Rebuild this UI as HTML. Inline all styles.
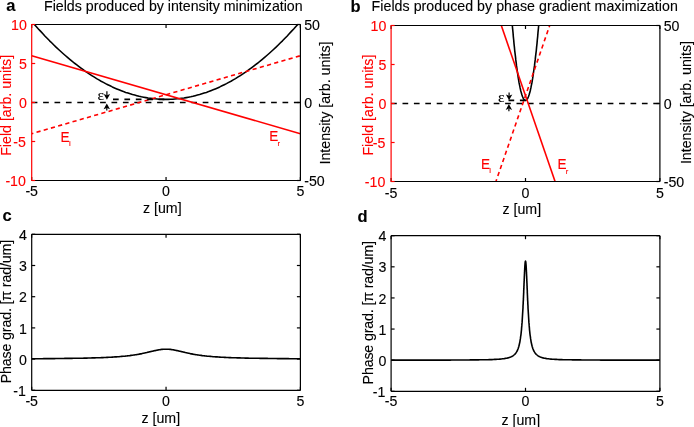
<!DOCTYPE html>
<html><head><meta charset="utf-8"><style>html,body{margin:0;padding:0;background:#fff;width:694px;height:427px;overflow:hidden}svg{display:block;will-change:transform}</style></head>
<body><svg width="694" height="427" viewBox="0 0 694 427"><clipPath id="ca"><rect x="31.7" y="24.5" width="268.7" height="156.0"/></clipPath>
<line x1="31.70" y1="102.50" x2="300.40" y2="102.50" stroke="#000" stroke-width="1.6" stroke-dasharray="5.7 5.7" stroke-linecap="butt"/>
<path d="M31.7,21.4 L33.9,24.0 L36.2,26.5 L38.4,29.0 L40.7,31.4 L42.9,33.8 L45.1,36.2 L47.4,38.5 L49.6,40.8 L51.9,43.0 L54.1,45.2 L56.3,47.4 L58.6,49.5 L60.8,51.5 L63.0,53.5 L65.3,55.5 L67.5,57.4 L69.8,59.3 L72.0,61.2 L74.2,63.0 L76.5,64.7 L78.7,66.4 L81.0,68.1 L83.2,69.7 L85.4,71.3 L87.7,72.8 L89.9,74.3 L92.2,75.8 L94.4,77.2 L96.6,78.6 L98.9,79.9 L101.1,81.2 L103.4,82.4 L105.6,83.6 L107.8,84.7 L110.1,85.8 L112.3,86.9 L114.5,87.9 L116.8,88.9 L119.0,89.8 L121.3,90.7 L123.5,91.6 L125.7,92.4 L128.0,93.1 L130.2,93.8 L132.5,94.5 L134.7,95.1 L136.9,95.7 L139.2,96.3 L141.4,96.8 L143.7,97.2 L145.9,97.6 L148.1,98.0 L150.4,98.3 L152.6,98.6 L154.9,98.8 L157.1,99.0 L159.3,99.2 L161.6,99.3 L163.8,99.4 L166.0,99.4 L168.3,99.4 L170.5,99.3 L172.8,99.2 L175.0,99.0 L177.2,98.8 L179.5,98.6 L181.7,98.3 L184.0,98.0 L186.2,97.6 L188.4,97.2 L190.7,96.8 L192.9,96.3 L195.2,95.7 L197.4,95.1 L199.6,94.5 L201.9,93.8 L204.1,93.1 L206.4,92.4 L208.6,91.6 L210.8,90.7 L213.1,89.8 L215.3,88.9 L217.6,87.9 L219.8,86.9 L222.0,85.8 L224.3,84.7 L226.5,83.6 L228.7,82.4 L231.0,81.2 L233.2,79.9 L235.5,78.6 L237.7,77.2 L239.9,75.8 L242.2,74.3 L244.4,72.8 L246.7,71.3 L248.9,69.7 L251.1,68.1 L253.4,66.4 L255.6,64.7 L257.9,63.0 L260.1,61.2 L262.3,59.3 L264.6,57.4 L266.8,55.5 L269.1,53.5 L271.3,51.5 L273.5,49.5 L275.8,47.4 L278.0,45.2 L280.2,43.0 L282.5,40.8 L284.7,38.5 L287.0,36.2 L289.2,33.8 L291.4,31.4 L293.7,29.0 L295.9,26.5 L298.2,24.0 L300.4,21.4" fill="none" stroke="#000" stroke-width="1.6" clip-path="url(#ca)" stroke-linejoin="round"/>
<path d="M31.7,133.7 L300.4,55.7" fill="none" stroke="#ff0000" stroke-width="1.6" stroke-dasharray="4.2 3.3" stroke-dashoffset="2.5" clip-path="url(#ca)" stroke-linejoin="round"/>
<path d="M31.7,55.7 L300.4,133.7" fill="none" stroke="#ff0000" stroke-width="1.6" clip-path="url(#ca)" stroke-linejoin="round"/>
<line x1="113.00" y1="99.38" x2="166.05" y2="99.38" stroke="#000" stroke-width="1.6" stroke-dasharray="5.7 5.7" stroke-linecap="butt"/>
<line x1="31.70" y1="180.50" x2="300.40" y2="180.50" stroke="#000" stroke-width="1.2" stroke-linecap="butt"/>
<line x1="31.70" y1="24.50" x2="300.40" y2="24.50" stroke="#000" stroke-width="1.2" stroke-linecap="butt"/>
<line x1="300.40" y1="24.50" x2="300.40" y2="180.50" stroke="#000" stroke-width="1.2" stroke-linecap="butt"/>
<line x1="296.90" y1="180.50" x2="300.40" y2="180.50" stroke="#000" stroke-width="1.2" stroke-linecap="butt"/>
<text x="304.20" y="185.90" fill="#000" stroke="#000" stroke-width="0.12" font-size="14.2" text-anchor="start" font-weight="normal" font-family="Liberation Sans">-50</text>
<line x1="296.90" y1="102.50" x2="300.40" y2="102.50" stroke="#000" stroke-width="1.2" stroke-linecap="butt"/>
<text x="304.20" y="107.90" fill="#000" stroke="#000" stroke-width="0.12" font-size="14.2" text-anchor="start" font-weight="normal" font-family="Liberation Sans">0</text>
<line x1="296.90" y1="24.50" x2="300.40" y2="24.50" stroke="#000" stroke-width="1.2" stroke-linecap="butt"/>
<text x="304.20" y="29.90" fill="#000" stroke="#000" stroke-width="0.12" font-size="14.2" text-anchor="start" font-weight="normal" font-family="Liberation Sans">50</text>
<line x1="31.70" y1="180.50" x2="31.70" y2="177.00" stroke="#000" stroke-width="1.2" stroke-linecap="butt"/>
<line x1="31.70" y1="24.50" x2="31.70" y2="28.00" stroke="#000" stroke-width="1.2" stroke-linecap="butt"/>
<text x="31.70" y="196.45" fill="#000" stroke="#000" stroke-width="0.12" font-size="14.2" text-anchor="middle" font-weight="normal" font-family="Liberation Sans">-5</text>
<line x1="166.05" y1="180.50" x2="166.05" y2="177.00" stroke="#000" stroke-width="1.2" stroke-linecap="butt"/>
<line x1="166.05" y1="24.50" x2="166.05" y2="28.00" stroke="#000" stroke-width="1.2" stroke-linecap="butt"/>
<text x="166.05" y="196.45" fill="#000" stroke="#000" stroke-width="0.12" font-size="14.2" text-anchor="middle" font-weight="normal" font-family="Liberation Sans">0</text>
<line x1="300.40" y1="180.50" x2="300.40" y2="177.00" stroke="#000" stroke-width="1.2" stroke-linecap="butt"/>
<line x1="300.40" y1="24.50" x2="300.40" y2="28.00" stroke="#000" stroke-width="1.2" stroke-linecap="butt"/>
<text x="300.40" y="196.45" fill="#000" stroke="#000" stroke-width="0.12" font-size="14.2" text-anchor="middle" font-weight="normal" font-family="Liberation Sans">5</text>
<line x1="31.70" y1="23.90" x2="31.70" y2="181.10" stroke="#ff0000" stroke-width="1.2" stroke-linecap="butt"/>
<line x1="31.70" y1="180.50" x2="35.20" y2="180.50" stroke="#ff0000" stroke-width="1.2" stroke-linecap="butt"/>
<text x="25.90" y="185.90" fill="#ff0000" stroke="#ff0000" stroke-width="0.12" font-size="14.2" text-anchor="end" font-weight="normal" font-family="Liberation Sans">-10</text>
<line x1="31.70" y1="141.50" x2="35.20" y2="141.50" stroke="#ff0000" stroke-width="1.2" stroke-linecap="butt"/>
<text x="25.90" y="146.90" fill="#ff0000" stroke="#ff0000" stroke-width="0.12" font-size="14.2" text-anchor="end" font-weight="normal" font-family="Liberation Sans">-5</text>
<line x1="31.70" y1="102.50" x2="35.20" y2="102.50" stroke="#ff0000" stroke-width="1.2" stroke-linecap="butt"/>
<text x="26.90" y="107.90" fill="#ff0000" stroke="#ff0000" stroke-width="0.12" font-size="14.2" text-anchor="end" font-weight="normal" font-family="Liberation Sans">0</text>
<line x1="31.70" y1="63.50" x2="35.20" y2="63.50" stroke="#ff0000" stroke-width="1.2" stroke-linecap="butt"/>
<text x="26.90" y="68.90" fill="#ff0000" stroke="#ff0000" stroke-width="0.12" font-size="14.2" text-anchor="end" font-weight="normal" font-family="Liberation Sans">5</text>
<line x1="31.70" y1="24.50" x2="35.20" y2="24.50" stroke="#ff0000" stroke-width="1.2" stroke-linecap="butt"/>
<text x="26.90" y="29.90" fill="#ff0000" stroke="#ff0000" stroke-width="0.12" font-size="14.2" text-anchor="end" font-weight="normal" font-family="Liberation Sans">10</text>
<text x="6.30" y="10.90" fill="#000" stroke="#000" stroke-width="0.12" font-size="16.5" text-anchor="start" font-weight="bold" font-family="Liberation Sans">a</text>
<text x="44.00" y="10.70" fill="#000" stroke="#000" stroke-width="0.12" font-size="14.2" text-anchor="start" font-weight="normal" font-family="Liberation Sans">Fields produced by intensity minimization</text>
<text x="10.60" y="155.80" fill="#ff0000" stroke="#ff0000" stroke-width="0.12" font-size="14.2" text-anchor="start" font-weight="normal" font-family="Liberation Sans" transform="rotate(-90 10.60 155.80)">Field [arb. units]</text>
<text x="329.60" y="164.50" fill="#000" stroke="#000" stroke-width="0.12" font-size="14.2" text-anchor="start" font-weight="normal" font-family="Liberation Sans" transform="rotate(-90 329.60 164.50)">Intensity [arb. units]</text>
<text x="143.00" y="213.15" fill="#000" stroke="#000" stroke-width="0.12" font-size="14.2" text-anchor="start" font-weight="normal" font-family="Liberation Sans">z [um]</text>
<text x="97.40" y="99.60" fill="#000" stroke="#000" stroke-width="0.12" font-size="15.4" text-anchor="start" font-weight="normal" font-family="Liberation Serif">ε</text>
<line x1="106.90" y1="91.30" x2="106.90" y2="95.30" stroke="#000" stroke-width="1.2" stroke-linecap="butt"/>
<path d="M106.90,99.80 L103.70,94.00 L106.90,95.30 L110.10,94.00 Z" fill="#000"/>
<line x1="106.80" y1="110.50" x2="106.80" y2="107.90" stroke="#000" stroke-width="1.2" stroke-linecap="butt"/>
<path d="M106.80,103.40 L103.60,109.20 L106.80,107.90 L110.00,109.20 Z" fill="#000"/>
<text x="60.50" y="141.60" fill="#ff0000" stroke="#ff0000" stroke-width="0.12" font-size="15.4" text-anchor="start" font-weight="normal" font-family="Liberation Sans" transform="translate(60.50 141.60) scale(0.88 1) translate(-60.50 -141.60)">E</text>
<text x="68.90" y="146.30" fill="#ff0000" stroke="#ff0000" stroke-width="0.12" font-size="7.8" text-anchor="start" font-weight="normal" font-family="Liberation Sans">i</text>
<text x="269.30" y="141.50" fill="#ff0000" stroke="#ff0000" stroke-width="0.12" font-size="15.4" text-anchor="start" font-weight="normal" font-family="Liberation Sans" transform="translate(269.30 141.50) scale(0.88 1) translate(-269.30 -141.50)">E</text>
<text x="277.60" y="145.90" fill="#ff0000" stroke="#ff0000" stroke-width="0.12" font-size="7.8" text-anchor="start" font-weight="normal" font-family="Liberation Sans">r</text>
<clipPath id="cb"><rect x="391.1" y="25.5" width="268.79999999999995" height="156.0"/></clipPath>
<line x1="391.10" y1="103.50" x2="659.90" y2="103.50" stroke="#000" stroke-width="1.6" stroke-dasharray="5.7 5.7" stroke-linecap="butt"/>
<path d="M504.0,-99.3 L504.4,-92.7 L504.7,-86.2 L505.1,-79.8 L505.4,-73.6 L505.8,-67.4 L506.1,-61.4 L506.5,-55.4 L506.9,-49.6 L507.2,-43.9 L507.6,-38.3 L507.9,-32.8 L508.3,-27.4 L508.7,-22.1 L509.0,-17.0 L509.4,-11.9 L509.7,-7.0 L510.1,-2.2 L510.4,2.5 L510.8,7.1 L511.2,11.6 L511.5,16.0 L511.9,20.3 L512.2,24.4 L512.6,28.5 L513.0,32.4 L513.3,36.3 L513.7,40.0 L514.0,43.6 L514.4,47.1 L514.7,50.5 L515.1,53.7 L515.5,56.9 L515.8,59.9 L516.2,62.9 L516.5,65.7 L516.9,68.4 L517.3,71.0 L517.6,73.5 L518.0,75.9 L518.3,78.2 L518.7,80.4 L519.0,82.4 L519.4,84.4 L519.8,86.2 L520.1,87.9 L520.5,89.5 L520.8,91.0 L521.2,92.4 L521.6,93.7 L521.9,94.8 L522.3,95.9 L522.6,96.8 L523.0,97.7 L523.3,98.4 L523.7,99.0 L524.1,99.5 L524.4,99.9 L524.8,100.2 L525.1,100.3 L525.5,100.4 L525.9,100.3 L526.2,100.2 L526.6,99.9 L526.9,99.5 L527.3,99.0 L527.7,98.4 L528.0,97.7 L528.4,96.8 L528.7,95.9 L529.1,94.8 L529.4,93.7 L529.8,92.4 L530.2,91.0 L530.5,89.5 L530.9,87.9 L531.2,86.2 L531.6,84.4 L532.0,82.4 L532.3,80.4 L532.7,78.2 L533.0,75.9 L533.4,73.5 L533.7,71.0 L534.1,68.4 L534.5,65.7 L534.8,62.9 L535.2,59.9 L535.5,56.9 L535.9,53.7 L536.3,50.5 L536.6,47.1 L537.0,43.6 L537.3,40.0 L537.7,36.3 L538.0,32.4 L538.4,28.5 L538.8,24.4 L539.1,20.3 L539.5,16.0 L539.8,11.6 L540.2,7.1 L540.6,2.5 L540.9,-2.2 L541.3,-7.0 L541.6,-11.9 L542.0,-17.0 L542.3,-22.1 L542.7,-27.4 L543.1,-32.8 L543.4,-38.3 L543.8,-43.9 L544.1,-49.6 L544.5,-55.4 L544.9,-61.4 L545.2,-67.4 L545.6,-73.6 L545.9,-79.8 L546.3,-86.2 L546.6,-92.7 L547.0,-99.3" fill="none" stroke="#000" stroke-width="1.6" clip-path="url(#cb)" stroke-linejoin="round"/>
<path d="M391.1,485.7 L659.9,-294.3" fill="none" stroke="#ff0000" stroke-width="1.6" stroke-dasharray="4.2 3.3" stroke-dashoffset="2.5" clip-path="url(#cb)" stroke-linejoin="round"/>
<path d="M391.1,-294.3 L659.9,485.7" fill="none" stroke="#ff0000" stroke-width="1.6" clip-path="url(#cb)" stroke-linejoin="round"/>
<line x1="508.50" y1="100.38" x2="525.50" y2="100.38" stroke="#000" stroke-width="1.6" stroke-dasharray="5.7 5.7" stroke-linecap="butt"/>
<line x1="391.10" y1="181.50" x2="659.90" y2="181.50" stroke="#000" stroke-width="1.2" stroke-linecap="butt"/>
<line x1="391.10" y1="25.50" x2="659.90" y2="25.50" stroke="#000" stroke-width="1.2" stroke-linecap="butt"/>
<line x1="659.90" y1="25.50" x2="659.90" y2="181.50" stroke="#000" stroke-width="1.2" stroke-linecap="butt"/>
<line x1="656.40" y1="181.50" x2="659.90" y2="181.50" stroke="#000" stroke-width="1.2" stroke-linecap="butt"/>
<text x="663.70" y="186.90" fill="#000" stroke="#000" stroke-width="0.12" font-size="14.2" text-anchor="start" font-weight="normal" font-family="Liberation Sans">-50</text>
<line x1="656.40" y1="103.50" x2="659.90" y2="103.50" stroke="#000" stroke-width="1.2" stroke-linecap="butt"/>
<text x="663.70" y="108.90" fill="#000" stroke="#000" stroke-width="0.12" font-size="14.2" text-anchor="start" font-weight="normal" font-family="Liberation Sans">0</text>
<line x1="656.40" y1="25.50" x2="659.90" y2="25.50" stroke="#000" stroke-width="1.2" stroke-linecap="butt"/>
<text x="663.70" y="30.90" fill="#000" stroke="#000" stroke-width="0.12" font-size="14.2" text-anchor="start" font-weight="normal" font-family="Liberation Sans">50</text>
<line x1="391.10" y1="181.50" x2="391.10" y2="178.00" stroke="#000" stroke-width="1.2" stroke-linecap="butt"/>
<line x1="391.10" y1="25.50" x2="391.10" y2="29.00" stroke="#000" stroke-width="1.2" stroke-linecap="butt"/>
<text x="391.10" y="197.50" fill="#000" stroke="#000" stroke-width="0.12" font-size="14.2" text-anchor="middle" font-weight="normal" font-family="Liberation Sans">-5</text>
<line x1="525.50" y1="181.50" x2="525.50" y2="178.00" stroke="#000" stroke-width="1.2" stroke-linecap="butt"/>
<line x1="525.50" y1="25.50" x2="525.50" y2="29.00" stroke="#000" stroke-width="1.2" stroke-linecap="butt"/>
<text x="525.50" y="197.50" fill="#000" stroke="#000" stroke-width="0.12" font-size="14.2" text-anchor="middle" font-weight="normal" font-family="Liberation Sans">0</text>
<line x1="659.90" y1="181.50" x2="659.90" y2="178.00" stroke="#000" stroke-width="1.2" stroke-linecap="butt"/>
<line x1="659.90" y1="25.50" x2="659.90" y2="29.00" stroke="#000" stroke-width="1.2" stroke-linecap="butt"/>
<text x="659.90" y="197.50" fill="#000" stroke="#000" stroke-width="0.12" font-size="14.2" text-anchor="middle" font-weight="normal" font-family="Liberation Sans">5</text>
<line x1="391.10" y1="24.90" x2="391.10" y2="182.10" stroke="#ff0000" stroke-width="1.2" stroke-linecap="butt"/>
<line x1="391.10" y1="181.50" x2="394.60" y2="181.50" stroke="#ff0000" stroke-width="1.2" stroke-linecap="butt"/>
<text x="385.30" y="186.90" fill="#ff0000" stroke="#ff0000" stroke-width="0.12" font-size="14.2" text-anchor="end" font-weight="normal" font-family="Liberation Sans">-10</text>
<line x1="391.10" y1="142.50" x2="394.60" y2="142.50" stroke="#ff0000" stroke-width="1.2" stroke-linecap="butt"/>
<text x="385.30" y="147.90" fill="#ff0000" stroke="#ff0000" stroke-width="0.12" font-size="14.2" text-anchor="end" font-weight="normal" font-family="Liberation Sans">-5</text>
<line x1="391.10" y1="103.50" x2="394.60" y2="103.50" stroke="#ff0000" stroke-width="1.2" stroke-linecap="butt"/>
<text x="386.30" y="108.90" fill="#ff0000" stroke="#ff0000" stroke-width="0.12" font-size="14.2" text-anchor="end" font-weight="normal" font-family="Liberation Sans">0</text>
<line x1="391.10" y1="64.50" x2="394.60" y2="64.50" stroke="#ff0000" stroke-width="1.2" stroke-linecap="butt"/>
<text x="386.30" y="69.90" fill="#ff0000" stroke="#ff0000" stroke-width="0.12" font-size="14.2" text-anchor="end" font-weight="normal" font-family="Liberation Sans">5</text>
<line x1="391.10" y1="25.50" x2="394.60" y2="25.50" stroke="#ff0000" stroke-width="1.2" stroke-linecap="butt"/>
<text x="386.30" y="30.90" fill="#ff0000" stroke="#ff0000" stroke-width="0.12" font-size="14.2" text-anchor="end" font-weight="normal" font-family="Liberation Sans">10</text>
<text x="350.40" y="11.50" fill="#000" stroke="#000" stroke-width="0.12" font-size="16.5" text-anchor="start" font-weight="bold" font-family="Liberation Sans">b</text>
<text x="371.60" y="10.70" fill="#000" stroke="#000" stroke-width="0.12" font-size="14.2" text-anchor="start" font-weight="normal" font-family="Liberation Sans" textLength="306.2" lengthAdjust="spacing">Fields produced by phase gradient maximization</text>
<text x="373.10" y="155.60" fill="#ff0000" stroke="#ff0000" stroke-width="0.12" font-size="14.2" text-anchor="start" font-weight="normal" font-family="Liberation Sans" transform="rotate(-90 373.10 155.60)">Field [arb. units]</text>
<text x="691.10" y="164.10" fill="#000" stroke="#000" stroke-width="0.12" font-size="14.2" text-anchor="start" font-weight="normal" font-family="Liberation Sans" transform="rotate(-90 691.10 164.10)">Intensity [arb. units]</text>
<text x="502.50" y="213.80" fill="#000" stroke="#000" stroke-width="0.12" font-size="14.2" text-anchor="start" font-weight="normal" font-family="Liberation Sans">z [um]</text>
<text x="498.10" y="101.50" fill="#000" stroke="#000" stroke-width="0.12" font-size="15.4" text-anchor="start" font-weight="normal" font-family="Liberation Serif">ε</text>
<line x1="509.10" y1="92.60" x2="509.10" y2="95.80" stroke="#000" stroke-width="1.2" stroke-linecap="butt"/>
<path d="M509.10,100.30 L505.90,94.50 L509.10,95.80 L512.30,94.50 Z" fill="#000"/>
<line x1="508.90" y1="111.30" x2="508.90" y2="108.60" stroke="#000" stroke-width="1.2" stroke-linecap="butt"/>
<path d="M508.90,104.10 L505.70,109.90 L508.90,108.60 L512.10,109.90 Z" fill="#000"/>
<text x="481.00" y="168.60" fill="#ff0000" stroke="#ff0000" stroke-width="0.12" font-size="15.4" text-anchor="start" font-weight="normal" font-family="Liberation Sans" transform="translate(481.00 168.60) scale(0.88 1) translate(-481.00 -168.60)">E</text>
<text x="489.20" y="173.20" fill="#ff0000" stroke="#ff0000" stroke-width="0.12" font-size="7.8" text-anchor="start" font-weight="normal" font-family="Liberation Sans">i</text>
<text x="557.50" y="169.30" fill="#ff0000" stroke="#ff0000" stroke-width="0.12" font-size="15.4" text-anchor="start" font-weight="normal" font-family="Liberation Sans" transform="translate(557.50 169.30) scale(0.88 1) translate(-557.50 -169.30)">E</text>
<text x="565.70" y="173.60" fill="#ff0000" stroke="#ff0000" stroke-width="0.12" font-size="7.8" text-anchor="start" font-weight="normal" font-family="Liberation Sans">r</text>
<clipPath id="cc"><rect x="31.7" y="234.3" width="268.7" height="156.0"/></clipPath>
<path d="M31.7,358.7 L33.0,358.7 L34.4,358.7 L35.7,358.7 L37.1,358.7 L38.4,358.7 L39.8,358.7 L41.1,358.7 L42.4,358.7 L43.8,358.6 L45.1,358.6 L46.5,358.6 L47.8,358.6 L49.2,358.6 L50.5,358.6 L51.9,358.6 L53.2,358.6 L54.5,358.6 L55.9,358.5 L57.2,358.5 L58.6,358.5 L59.9,358.5 L61.3,358.5 L62.6,358.5 L63.9,358.5 L64.8,358.4 L65.3,358.4 L66.6,358.4 L68.0,358.4 L69.3,358.4 L70.7,358.4 L72.0,358.4 L73.3,358.3 L74.7,358.3 L76.0,358.3 L77.4,358.3 L78.7,358.2 L80.1,358.2 L81.4,358.2 L82.8,358.2 L84.1,358.1 L84.8,358.1 L85.4,358.1 L86.8,358.1 L88.1,358.0 L89.5,358.0 L90.8,358.0 L92.2,357.9 L93.5,357.9 L94.8,357.9 L96.2,357.8 L97.5,357.8 L98.3,357.8 L98.9,357.7 L100.2,357.7 L101.6,357.6 L102.9,357.6 L104.2,357.5 L105.6,357.5 L106.9,357.4 L107.9,357.4 L108.3,357.3 L109.6,357.3 L111.0,357.2 L112.3,357.1 L113.7,357.0 L115.0,356.9 L115.1,356.9 L116.3,356.9 L117.7,356.8 L119.0,356.7 L120.4,356.5 L120.8,356.5 L121.7,356.4 L123.1,356.3 L124.4,356.2 L125.3,356.1 L125.7,356.0 L127.1,355.9 L128.4,355.7 L129.0,355.7 L129.8,355.6 L131.1,355.4 L132.1,355.3 L132.5,355.2 L133.8,355.0 L134.7,354.9 L135.1,354.8 L136.5,354.6 L137.0,354.5 L137.8,354.4 L139.0,354.2 L139.2,354.1 L140.5,353.9 L140.7,353.9 L141.9,353.6 L142.2,353.5 L143.2,353.3 L143.5,353.3 L144.6,353.0 L144.7,353.0 L145.8,352.8 L145.9,352.7 L146.8,352.5 L147.2,352.4 L147.7,352.3 L148.5,352.1 L148.6,352.1 L149.3,351.9 L149.9,351.8 L150.0,351.8 L150.6,351.6 L151.2,351.5 L151.3,351.5 L151.8,351.3 L152.3,351.2 L152.6,351.2 L152.8,351.1 L153.3,351.0 L153.7,350.9 L154.0,350.8 L154.1,350.8 L154.5,350.7 L154.8,350.6 L155.2,350.6 L155.3,350.5 L155.5,350.5 L155.8,350.4 L156.1,350.4 L156.4,350.3 L156.6,350.3 L156.6,350.3 L156.9,350.2 L157.1,350.2 L157.4,350.1 L157.6,350.1 L157.8,350.0 L158.0,350.0 L158.0,350.0 L158.2,350.0 L158.4,349.9 L158.6,349.9 L158.7,349.9 L158.9,349.8 L159.1,349.8 L159.2,349.8 L159.3,349.8 L159.4,349.7 L159.5,349.7 L159.7,349.7 L159.8,349.7 L160.0,349.7 L160.1,349.6 L160.2,349.6 L160.3,349.6 L160.5,349.6 L160.6,349.6 L160.7,349.6 L160.7,349.5 L160.8,349.5 L160.9,349.5 L161.0,349.5 L161.1,349.5 L161.2,349.5 L161.3,349.5 L161.4,349.5 L161.5,349.4 L161.6,349.4 L161.7,349.4 L161.8,349.4 L161.9,349.4 L162.0,349.4 L162.0,349.4 L162.0,349.4 L162.1,349.4 L162.2,349.4 L162.3,349.4 L162.4,349.4 L162.4,349.3 L162.5,349.3 L162.6,349.3 L162.7,349.3 L162.7,349.3 L162.8,349.3 L162.9,349.3 L162.9,349.3 L163.0,349.3 L163.1,349.3 L163.1,349.3 L163.2,349.3 L163.3,349.3 L163.3,349.3 L163.4,349.3 L163.4,349.3 L163.4,349.3 L163.5,349.3 L163.6,349.3 L163.6,349.2 L163.7,349.2 L163.7,349.2 L163.8,349.2 L163.8,349.2 L163.9,349.2 L163.9,349.2 L164.0,349.2 L164.1,349.2 L164.1,349.2 L164.2,349.2 L164.2,349.2 L164.3,349.2 L164.3,349.2 L164.4,349.2 L164.4,349.2 L164.5,349.2 L164.5,349.2 L164.6,349.2 L164.6,349.2 L164.7,349.2 L164.7,349.2 L164.8,349.2 L164.8,349.2 L164.8,349.2 L164.9,349.2 L164.9,349.2 L165.0,349.2 L165.0,349.2 L165.1,349.2 L165.1,349.2 L165.2,349.2 L165.2,349.2 L165.3,349.2 L165.3,349.2 L165.4,349.2 L165.4,349.2 L165.4,349.2 L165.5,349.2 L165.5,349.2 L165.6,349.2 L165.6,349.2 L165.7,349.2 L165.7,349.2 L165.7,349.2 L165.8,349.2 L165.8,349.2 L165.9,349.2 L165.9,349.2 L166.0,349.2 L166.0,349.2 L166.0,349.2 L166.1,349.2 L166.1,349.2 L166.2,349.2 L166.2,349.2 L166.3,349.2 L166.3,349.2 L166.4,349.2 L166.4,349.2 L166.4,349.2 L166.5,349.2 L166.5,349.2 L166.6,349.2 L166.6,349.2 L166.7,349.2 L166.7,349.2 L166.7,349.2 L166.8,349.2 L166.8,349.2 L166.9,349.2 L166.9,349.2 L167.0,349.2 L167.0,349.2 L167.1,349.2 L167.1,349.2 L167.2,349.2 L167.2,349.2 L167.3,349.2 L167.3,349.2 L167.3,349.2 L167.4,349.2 L167.4,349.2 L167.5,349.2 L167.5,349.2 L167.6,349.2 L167.6,349.2 L167.7,349.2 L167.7,349.2 L167.8,349.2 L167.8,349.2 L167.9,349.2 L167.9,349.2 L168.0,349.2 L168.0,349.2 L168.1,349.2 L168.2,349.2 L168.2,349.2 L168.3,349.2 L168.3,349.2 L168.4,349.2 L168.4,349.2 L168.5,349.2 L168.5,349.3 L168.6,349.3 L168.7,349.3 L168.7,349.3 L168.7,349.3 L168.8,349.3 L168.8,349.3 L168.9,349.3 L169.0,349.3 L169.0,349.3 L169.1,349.3 L169.2,349.3 L169.2,349.3 L169.3,349.3 L169.4,349.3 L169.4,349.3 L169.5,349.3 L169.6,349.3 L169.7,349.3 L169.7,349.4 L169.8,349.4 L169.9,349.4 L170.0,349.4 L170.1,349.4 L170.1,349.4 L170.1,349.4 L170.2,349.4 L170.3,349.4 L170.4,349.4 L170.5,349.4 L170.6,349.4 L170.7,349.5 L170.8,349.5 L170.9,349.5 L171.0,349.5 L171.1,349.5 L171.2,349.5 L171.3,349.5 L171.4,349.5 L171.4,349.6 L171.5,349.6 L171.6,349.6 L171.8,349.6 L171.9,349.6 L172.0,349.6 L172.1,349.7 L172.3,349.7 L172.4,349.7 L172.6,349.7 L172.7,349.7 L172.8,349.8 L172.9,349.8 L173.0,349.8 L173.2,349.8 L173.4,349.9 L173.5,349.9 L173.7,349.9 L173.9,350.0 L174.1,350.0 L174.1,350.0 L174.3,350.0 L174.5,350.1 L174.7,350.1 L175.0,350.2 L175.2,350.2 L175.5,350.3 L175.5,350.3 L175.7,350.3 L176.0,350.4 L176.3,350.4 L176.6,350.5 L176.8,350.5 L176.9,350.6 L177.3,350.6 L177.6,350.7 L178.0,350.8 L178.1,350.8 L178.4,350.9 L178.8,351.0 L179.3,351.1 L179.5,351.2 L179.8,351.2 L180.3,351.3 L180.8,351.5 L180.9,351.5 L181.5,351.6 L182.1,351.8 L182.2,351.8 L182.8,351.9 L183.5,352.1 L183.6,352.1 L184.4,352.3 L184.9,352.4 L185.3,352.5 L186.2,352.7 L186.3,352.8 L187.4,353.0 L187.5,353.0 L188.6,353.3 L188.9,353.3 L189.9,353.5 L190.2,353.6 L191.4,353.9 L191.6,353.9 L192.9,354.1 L193.1,354.2 L194.3,354.4 L195.1,354.5 L195.6,354.6 L197.0,354.8 L197.4,354.9 L198.3,355.0 L199.6,355.2 L200.0,355.3 L201.0,355.4 L202.3,355.6 L203.1,355.7 L203.7,355.7 L205.0,355.9 L206.4,356.0 L206.8,356.1 L207.7,356.2 L209.0,356.3 L210.4,356.4 L211.3,356.5 L211.7,356.5 L213.1,356.7 L214.4,356.8 L215.8,356.9 L217.0,356.9 L217.1,356.9 L218.4,357.0 L219.8,357.1 L221.1,357.2 L222.5,357.3 L223.8,357.3 L224.2,357.4 L225.2,357.4 L226.5,357.5 L227.9,357.5 L229.2,357.6 L230.5,357.6 L231.9,357.7 L233.2,357.7 L233.8,357.8 L234.6,357.8 L235.9,357.8 L237.3,357.9 L238.6,357.9 L239.9,357.9 L241.3,358.0 L242.6,358.0 L244.0,358.0 L245.3,358.1 L246.7,358.1 L247.3,358.1 L248.0,358.1 L249.3,358.2 L250.7,358.2 L252.0,358.2 L253.4,358.2 L254.7,358.3 L256.1,358.3 L257.4,358.3 L258.8,358.3 L260.1,358.4 L261.4,358.4 L262.8,358.4 L264.1,358.4 L265.5,358.4 L266.8,358.4 L267.3,358.4 L268.2,358.5 L269.5,358.5 L270.8,358.5 L272.2,358.5 L273.5,358.5 L274.9,358.5 L276.2,358.5 L277.6,358.6 L278.9,358.6 L280.2,358.6 L281.6,358.6 L282.9,358.6 L284.3,358.6 L285.6,358.6 L287.0,358.6 L288.3,358.6 L289.7,358.7 L291.0,358.7 L292.3,358.7 L293.7,358.7 L295.0,358.7 L296.4,358.7 L297.7,358.7 L299.1,358.7 L300.4,358.7" fill="none" stroke="#000" stroke-width="1.6" clip-path="url(#cc)" stroke-linejoin="round"/>
<line x1="31.70" y1="390.30" x2="300.40" y2="390.30" stroke="#000" stroke-width="1.2" stroke-linecap="butt"/>
<line x1="31.70" y1="234.30" x2="300.40" y2="234.30" stroke="#000" stroke-width="1.2" stroke-linecap="butt"/>
<line x1="31.70" y1="234.30" x2="31.70" y2="390.30" stroke="#000" stroke-width="1.2" stroke-linecap="butt"/>
<line x1="300.40" y1="234.30" x2="300.40" y2="390.30" stroke="#000" stroke-width="1.2" stroke-linecap="butt"/>
<line x1="31.70" y1="390.30" x2="35.20" y2="390.30" stroke="#000" stroke-width="1.2" stroke-linecap="butt"/>
<line x1="296.90" y1="390.30" x2="300.40" y2="390.30" stroke="#000" stroke-width="1.2" stroke-linecap="butt"/>
<text x="25.90" y="395.90" fill="#000" stroke="#000" stroke-width="0.12" font-size="14.2" text-anchor="end" font-weight="normal" font-family="Liberation Sans">-1</text>
<line x1="31.70" y1="359.10" x2="35.20" y2="359.10" stroke="#000" stroke-width="1.2" stroke-linecap="butt"/>
<line x1="296.90" y1="359.10" x2="300.40" y2="359.10" stroke="#000" stroke-width="1.2" stroke-linecap="butt"/>
<text x="26.90" y="364.70" fill="#000" stroke="#000" stroke-width="0.12" font-size="14.2" text-anchor="end" font-weight="normal" font-family="Liberation Sans">0</text>
<line x1="31.70" y1="327.90" x2="35.20" y2="327.90" stroke="#000" stroke-width="1.2" stroke-linecap="butt"/>
<line x1="296.90" y1="327.90" x2="300.40" y2="327.90" stroke="#000" stroke-width="1.2" stroke-linecap="butt"/>
<text x="26.90" y="333.50" fill="#000" stroke="#000" stroke-width="0.12" font-size="14.2" text-anchor="end" font-weight="normal" font-family="Liberation Sans">1</text>
<line x1="31.70" y1="296.70" x2="35.20" y2="296.70" stroke="#000" stroke-width="1.2" stroke-linecap="butt"/>
<line x1="296.90" y1="296.70" x2="300.40" y2="296.70" stroke="#000" stroke-width="1.2" stroke-linecap="butt"/>
<text x="26.90" y="302.30" fill="#000" stroke="#000" stroke-width="0.12" font-size="14.2" text-anchor="end" font-weight="normal" font-family="Liberation Sans">2</text>
<line x1="31.70" y1="265.50" x2="35.20" y2="265.50" stroke="#000" stroke-width="1.2" stroke-linecap="butt"/>
<line x1="296.90" y1="265.50" x2="300.40" y2="265.50" stroke="#000" stroke-width="1.2" stroke-linecap="butt"/>
<text x="26.90" y="271.10" fill="#000" stroke="#000" stroke-width="0.12" font-size="14.2" text-anchor="end" font-weight="normal" font-family="Liberation Sans">3</text>
<line x1="31.70" y1="234.30" x2="35.20" y2="234.30" stroke="#000" stroke-width="1.2" stroke-linecap="butt"/>
<line x1="296.90" y1="234.30" x2="300.40" y2="234.30" stroke="#000" stroke-width="1.2" stroke-linecap="butt"/>
<text x="26.90" y="239.90" fill="#000" stroke="#000" stroke-width="0.12" font-size="14.2" text-anchor="end" font-weight="normal" font-family="Liberation Sans">4</text>
<line x1="31.70" y1="390.30" x2="31.70" y2="386.80" stroke="#000" stroke-width="1.2" stroke-linecap="butt"/>
<line x1="31.70" y1="234.30" x2="31.70" y2="237.80" stroke="#000" stroke-width="1.2" stroke-linecap="butt"/>
<text x="31.70" y="406.10" fill="#000" stroke="#000" stroke-width="0.12" font-size="14.2" text-anchor="middle" font-weight="normal" font-family="Liberation Sans">-5</text>
<line x1="166.05" y1="390.30" x2="166.05" y2="386.80" stroke="#000" stroke-width="1.2" stroke-linecap="butt"/>
<line x1="166.05" y1="234.30" x2="166.05" y2="237.80" stroke="#000" stroke-width="1.2" stroke-linecap="butt"/>
<text x="166.05" y="406.10" fill="#000" stroke="#000" stroke-width="0.12" font-size="14.2" text-anchor="middle" font-weight="normal" font-family="Liberation Sans">0</text>
<line x1="300.40" y1="390.30" x2="300.40" y2="386.80" stroke="#000" stroke-width="1.2" stroke-linecap="butt"/>
<line x1="300.40" y1="234.30" x2="300.40" y2="237.80" stroke="#000" stroke-width="1.2" stroke-linecap="butt"/>
<text x="300.40" y="406.10" fill="#000" stroke="#000" stroke-width="0.12" font-size="14.2" text-anchor="middle" font-weight="normal" font-family="Liberation Sans">5</text>
<text x="2.60" y="220.80" fill="#000" stroke="#000" stroke-width="0.12" font-size="16.5" text-anchor="start" font-weight="bold" font-family="Liberation Sans">c</text>
<text x="10.60" y="383.30" fill="#000" stroke="#000" stroke-width="0.12" font-size="14.2" text-anchor="start" font-weight="normal" font-family="Liberation Sans" transform="rotate(-90 10.60 383.30)" textLength="143.4" lengthAdjust="spacing">Phase grad. [π rad/um]</text>
<text x="141.50" y="423.05" fill="#000" stroke="#000" stroke-width="0.12" font-size="14.2" text-anchor="start" font-weight="normal" font-family="Liberation Sans">z [um]</text>
<clipPath id="cd"><rect x="391.1" y="235.7" width="268.79999999999995" height="155.60000000000002"/></clipPath>
<path d="M391.1,360.1 L392.4,360.1 L393.8,360.1 L395.1,360.1 L396.5,360.1 L397.8,360.1 L399.2,360.1 L400.5,360.1 L401.9,360.1 L403.2,360.1 L404.5,360.1 L405.9,360.1 L407.2,360.1 L408.6,360.1 L409.9,360.1 L411.3,360.1 L412.6,360.1 L413.9,360.1 L415.3,360.1 L416.6,360.1 L418.0,360.1 L419.3,360.1 L420.7,360.1 L422.0,360.1 L423.4,360.1 L424.7,360.1 L426.0,360.1 L427.4,360.1 L428.7,360.1 L430.1,360.1 L431.4,360.1 L432.8,360.1 L434.1,360.1 L435.5,360.1 L436.8,360.1 L438.1,360.1 L439.5,360.1 L440.8,360.1 L442.2,360.1 L443.5,360.1 L444.9,360.1 L446.2,360.1 L447.5,360.1 L448.9,360.1 L450.2,360.1 L451.6,360.0 L452.9,360.0 L454.3,360.0 L455.6,360.0 L457.0,360.0 L458.3,360.0 L459.6,360.0 L461.0,360.0 L462.3,360.0 L463.7,360.0 L465.0,360.0 L466.4,360.0 L467.7,360.0 L469.1,360.0 L470.4,359.9 L471.7,359.9 L473.1,359.9 L474.4,359.9 L475.8,359.9 L477.1,359.9 L478.5,359.9 L479.8,359.8 L481.1,359.8 L482.5,359.8 L483.8,359.8 L485.2,359.7 L486.5,359.7 L487.9,359.7 L489.2,359.6 L490.6,359.6 L491.9,359.6 L493.2,359.5 L494.6,359.4 L495.9,359.4 L497.3,359.3 L498.6,359.2 L500.0,359.1 L501.2,359.0 L501.3,359.0 L502.7,358.8 L504.0,358.7 L505.3,358.4 L506.0,358.3 L506.7,358.2 L508.0,357.9 L509.2,357.5 L509.4,357.5 L510.7,357.0 L511.5,356.6 L512.1,356.4 L513.3,355.6 L513.4,355.5 L514.6,354.5 L514.7,354.4 L515.7,353.2 L516.1,352.7 L516.6,351.9 L517.4,350.5 L517.4,350.3 L518.0,349.0 L518.5,347.4 L518.8,346.5 L519.0,345.7 L519.4,344.0 L519.8,342.3 L520.1,340.5 L520.1,340.4 L520.4,338.7 L520.6,336.9 L520.9,335.1 L521.1,333.3 L521.3,331.4 L521.5,329.7 L521.5,329.6 L521.6,327.8 L521.8,325.9 L521.9,324.2 L522.1,322.4 L522.2,320.6 L522.3,318.9 L522.4,317.2 L522.5,315.5 L522.6,313.9 L522.7,312.4 L522.8,310.7 L522.8,310.7 L522.9,309.2 L523.0,307.7 L523.0,306.3 L523.1,304.9 L523.2,303.5 L523.2,302.2 L523.3,300.9 L523.4,299.6 L523.4,298.4 L523.5,297.2 L523.5,296.0 L523.6,294.9 L523.6,293.8 L523.7,292.8 L523.7,291.7 L523.7,290.7 L523.8,289.7 L523.8,288.8 L523.9,287.9 L523.9,287.0 L523.9,286.2 L524.0,285.3 L524.0,284.5 L524.0,283.7 L524.1,283.0 L524.1,282.3 L524.1,281.6 L524.2,280.9 L524.2,280.9 L524.2,280.2 L524.2,279.5 L524.2,278.9 L524.3,278.4 L524.3,277.7 L524.3,277.2 L524.3,276.6 L524.4,276.1 L524.4,275.6 L524.4,275.1 L524.4,274.6 L524.5,274.1 L524.5,273.7 L524.5,273.2 L524.5,272.8 L524.5,272.4 L524.6,272.0 L524.6,271.6 L524.6,271.2 L524.6,270.9 L524.6,270.5 L524.7,270.1 L524.7,269.8 L524.7,269.5 L524.7,269.2 L524.7,268.9 L524.7,268.6 L524.8,268.3 L524.8,268.0 L524.8,267.7 L524.8,267.4 L524.8,267.2 L524.8,266.9 L524.8,266.7 L524.9,266.5 L524.9,266.2 L524.9,266.0 L524.9,265.8 L524.9,265.6 L524.9,265.4 L524.9,265.2 L525.0,265.0 L525.0,264.8 L525.0,264.7 L525.0,264.5 L525.0,264.3 L525.0,264.2 L525.0,264.0 L525.0,263.9 L525.1,263.7 L525.1,263.6 L525.1,263.4 L525.1,263.3 L525.1,263.2 L525.1,263.1 L525.1,262.9 L525.1,262.8 L525.2,262.7 L525.2,262.6 L525.2,262.5 L525.2,262.4 L525.2,262.3 L525.2,262.2 L525.2,262.2 L525.2,262.1 L525.2,262.0 L525.3,261.9 L525.3,261.9 L525.3,261.8 L525.3,261.7 L525.3,261.7 L525.3,261.6 L525.3,261.6 L525.3,261.5 L525.3,261.5 L525.4,261.4 L525.4,261.4 L525.4,261.3 L525.4,261.3 L525.4,261.3 L525.4,261.2 L525.4,261.2 L525.4,261.2 L525.4,261.2 L525.4,261.2 L525.5,261.1 L525.5,261.1 L525.5,261.1 L525.5,261.1 L525.5,261.1 L525.5,261.1 L525.5,261.1 L525.5,261.1 L525.5,261.1 L525.6,261.2 L525.6,261.2 L525.6,261.2 L525.6,261.2 L525.6,261.2 L525.6,261.3 L525.6,261.3 L525.6,261.3 L525.6,261.4 L525.6,261.4 L525.7,261.5 L525.7,261.5 L525.7,261.6 L525.7,261.6 L525.7,261.7 L525.7,261.7 L525.7,261.8 L525.7,261.9 L525.7,261.9 L525.8,262.0 L525.8,262.1 L525.8,262.2 L525.8,262.2 L525.8,262.3 L525.8,262.4 L525.8,262.5 L525.8,262.6 L525.8,262.7 L525.9,262.8 L525.9,262.9 L525.9,263.1 L525.9,263.2 L525.9,263.3 L525.9,263.4 L525.9,263.6 L525.9,263.7 L526.0,263.9 L526.0,264.0 L526.0,264.2 L526.0,264.3 L526.0,264.5 L526.0,264.7 L526.0,264.8 L526.0,265.0 L526.1,265.2 L526.1,265.4 L526.1,265.6 L526.1,265.8 L526.1,266.0 L526.1,266.2 L526.1,266.5 L526.2,266.7 L526.2,266.9 L526.2,267.2 L526.2,267.4 L526.2,267.7 L526.2,268.0 L526.2,268.3 L526.3,268.6 L526.3,268.9 L526.3,269.2 L526.3,269.5 L526.3,269.8 L526.3,270.1 L526.4,270.5 L526.4,270.9 L526.4,271.2 L526.4,271.6 L526.4,272.0 L526.5,272.4 L526.5,272.8 L526.5,273.2 L526.5,273.7 L526.5,274.1 L526.6,274.6 L526.6,275.1 L526.6,275.6 L526.6,276.1 L526.7,276.6 L526.7,277.2 L526.7,277.7 L526.7,278.4 L526.8,278.9 L526.8,279.5 L526.8,280.2 L526.8,280.9 L526.8,280.9 L526.9,281.6 L526.9,282.3 L526.9,283.0 L527.0,283.7 L527.0,284.5 L527.0,285.3 L527.1,286.2 L527.1,287.0 L527.1,287.9 L527.2,288.8 L527.2,289.7 L527.3,290.7 L527.3,291.7 L527.3,292.8 L527.4,293.8 L527.4,294.9 L527.5,296.0 L527.5,297.2 L527.6,298.4 L527.6,299.6 L527.7,300.9 L527.8,302.2 L527.8,303.5 L527.9,304.9 L528.0,306.3 L528.0,307.7 L528.1,309.2 L528.2,310.7 L528.2,310.7 L528.3,312.4 L528.4,313.9 L528.5,315.5 L528.6,317.2 L528.7,318.9 L528.8,320.6 L528.9,322.4 L529.1,324.2 L529.2,325.9 L529.4,327.8 L529.5,329.6 L529.5,329.7 L529.7,331.4 L529.9,333.3 L530.1,335.1 L530.4,336.9 L530.6,338.7 L530.9,340.4 L530.9,340.5 L531.2,342.3 L531.6,344.0 L532.0,345.7 L532.2,346.5 L532.5,347.4 L533.0,349.0 L533.6,350.3 L533.6,350.5 L534.4,351.9 L534.9,352.7 L535.3,353.2 L536.3,354.4 L536.4,354.5 L537.6,355.5 L537.7,355.6 L538.9,356.4 L539.5,356.6 L540.3,357.0 L541.6,357.5 L541.8,357.5 L543.0,357.9 L544.3,358.2 L545.0,358.3 L545.7,358.4 L547.0,358.7 L548.3,358.8 L549.7,359.0 L549.8,359.0 L551.0,359.1 L552.4,359.2 L553.7,359.3 L555.1,359.4 L556.4,359.4 L557.8,359.5 L559.1,359.6 L560.4,359.6 L561.8,359.6 L563.1,359.7 L564.5,359.7 L565.8,359.7 L567.2,359.8 L568.5,359.8 L569.9,359.8 L571.2,359.8 L572.5,359.9 L573.9,359.9 L575.2,359.9 L576.6,359.9 L577.9,359.9 L579.3,359.9 L580.6,359.9 L581.9,360.0 L583.3,360.0 L584.6,360.0 L586.0,360.0 L587.3,360.0 L588.7,360.0 L590.0,360.0 L591.4,360.0 L592.7,360.0 L594.0,360.0 L595.4,360.0 L596.7,360.0 L598.1,360.0 L599.4,360.0 L600.8,360.1 L602.1,360.1 L603.5,360.1 L604.8,360.1 L606.1,360.1 L607.5,360.1 L608.8,360.1 L610.2,360.1 L611.5,360.1 L612.9,360.1 L614.2,360.1 L615.5,360.1 L616.9,360.1 L618.2,360.1 L619.6,360.1 L620.9,360.1 L622.3,360.1 L623.6,360.1 L625.0,360.1 L626.3,360.1 L627.6,360.1 L629.0,360.1 L630.3,360.1 L631.7,360.1 L633.0,360.1 L634.4,360.1 L635.7,360.1 L637.1,360.1 L638.4,360.1 L639.7,360.1 L641.1,360.1 L642.4,360.1 L643.8,360.1 L645.1,360.1 L646.5,360.1 L647.8,360.1 L649.1,360.1 L650.5,360.1 L651.8,360.1 L653.2,360.1 L654.5,360.1 L655.9,360.1 L657.2,360.1 L658.6,360.1 L659.9,360.1" fill="none" stroke="#000" stroke-width="1.6" clip-path="url(#cd)" stroke-linejoin="round"/>
<line x1="391.10" y1="391.30" x2="659.90" y2="391.30" stroke="#000" stroke-width="1.2" stroke-linecap="butt"/>
<line x1="391.10" y1="235.70" x2="659.90" y2="235.70" stroke="#000" stroke-width="1.2" stroke-linecap="butt"/>
<line x1="391.10" y1="235.70" x2="391.10" y2="391.30" stroke="#000" stroke-width="1.2" stroke-linecap="butt"/>
<line x1="659.90" y1="235.70" x2="659.90" y2="391.30" stroke="#000" stroke-width="1.2" stroke-linecap="butt"/>
<line x1="391.10" y1="391.30" x2="394.60" y2="391.30" stroke="#000" stroke-width="1.2" stroke-linecap="butt"/>
<line x1="656.40" y1="391.30" x2="659.90" y2="391.30" stroke="#000" stroke-width="1.2" stroke-linecap="butt"/>
<text x="385.30" y="396.90" fill="#000" stroke="#000" stroke-width="0.12" font-size="14.2" text-anchor="end" font-weight="normal" font-family="Liberation Sans">-1</text>
<line x1="391.10" y1="360.18" x2="394.60" y2="360.18" stroke="#000" stroke-width="1.2" stroke-linecap="butt"/>
<line x1="656.40" y1="360.18" x2="659.90" y2="360.18" stroke="#000" stroke-width="1.2" stroke-linecap="butt"/>
<text x="386.30" y="365.78" fill="#000" stroke="#000" stroke-width="0.12" font-size="14.2" text-anchor="end" font-weight="normal" font-family="Liberation Sans">0</text>
<line x1="391.10" y1="329.06" x2="394.60" y2="329.06" stroke="#000" stroke-width="1.2" stroke-linecap="butt"/>
<line x1="656.40" y1="329.06" x2="659.90" y2="329.06" stroke="#000" stroke-width="1.2" stroke-linecap="butt"/>
<text x="386.30" y="334.66" fill="#000" stroke="#000" stroke-width="0.12" font-size="14.2" text-anchor="end" font-weight="normal" font-family="Liberation Sans">1</text>
<line x1="391.10" y1="297.94" x2="394.60" y2="297.94" stroke="#000" stroke-width="1.2" stroke-linecap="butt"/>
<line x1="656.40" y1="297.94" x2="659.90" y2="297.94" stroke="#000" stroke-width="1.2" stroke-linecap="butt"/>
<text x="386.30" y="303.54" fill="#000" stroke="#000" stroke-width="0.12" font-size="14.2" text-anchor="end" font-weight="normal" font-family="Liberation Sans">2</text>
<line x1="391.10" y1="266.82" x2="394.60" y2="266.82" stroke="#000" stroke-width="1.2" stroke-linecap="butt"/>
<line x1="656.40" y1="266.82" x2="659.90" y2="266.82" stroke="#000" stroke-width="1.2" stroke-linecap="butt"/>
<text x="386.30" y="272.42" fill="#000" stroke="#000" stroke-width="0.12" font-size="14.2" text-anchor="end" font-weight="normal" font-family="Liberation Sans">3</text>
<line x1="391.10" y1="235.70" x2="394.60" y2="235.70" stroke="#000" stroke-width="1.2" stroke-linecap="butt"/>
<line x1="656.40" y1="235.70" x2="659.90" y2="235.70" stroke="#000" stroke-width="1.2" stroke-linecap="butt"/>
<text x="386.30" y="241.30" fill="#000" stroke="#000" stroke-width="0.12" font-size="14.2" text-anchor="end" font-weight="normal" font-family="Liberation Sans">4</text>
<line x1="391.10" y1="391.30" x2="391.10" y2="387.80" stroke="#000" stroke-width="1.2" stroke-linecap="butt"/>
<line x1="391.10" y1="235.70" x2="391.10" y2="239.20" stroke="#000" stroke-width="1.2" stroke-linecap="butt"/>
<text x="391.10" y="406.15" fill="#000" stroke="#000" stroke-width="0.12" font-size="14.2" text-anchor="middle" font-weight="normal" font-family="Liberation Sans">-5</text>
<line x1="525.50" y1="391.30" x2="525.50" y2="387.80" stroke="#000" stroke-width="1.2" stroke-linecap="butt"/>
<line x1="525.50" y1="235.70" x2="525.50" y2="239.20" stroke="#000" stroke-width="1.2" stroke-linecap="butt"/>
<text x="525.50" y="406.15" fill="#000" stroke="#000" stroke-width="0.12" font-size="14.2" text-anchor="middle" font-weight="normal" font-family="Liberation Sans">0</text>
<line x1="659.90" y1="391.30" x2="659.90" y2="387.80" stroke="#000" stroke-width="1.2" stroke-linecap="butt"/>
<line x1="659.90" y1="235.70" x2="659.90" y2="239.20" stroke="#000" stroke-width="1.2" stroke-linecap="butt"/>
<text x="659.90" y="406.15" fill="#000" stroke="#000" stroke-width="0.12" font-size="14.2" text-anchor="middle" font-weight="normal" font-family="Liberation Sans">5</text>
<text x="357.40" y="222.30" fill="#000" stroke="#000" stroke-width="0.12" font-size="16.5" text-anchor="start" font-weight="bold" font-family="Liberation Sans">d</text>
<text x="372.70" y="384.40" fill="#000" stroke="#000" stroke-width="0.12" font-size="14.2" text-anchor="start" font-weight="normal" font-family="Liberation Sans" transform="rotate(-90 372.70 384.40)" textLength="143.4" lengthAdjust="spacing">Phase grad. [π rad/um]</text>
<text x="501.50" y="424.50" fill="#000" stroke="#000" stroke-width="0.12" font-size="14.2" text-anchor="start" font-weight="normal" font-family="Liberation Sans">z [um]</text></svg></body></html>
